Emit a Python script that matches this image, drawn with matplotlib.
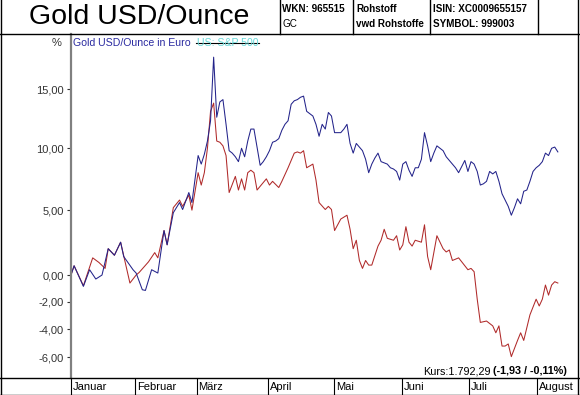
import numpy as np
import matplotlib
matplotlib.use("Agg")
import matplotlib.pyplot as plt

plt.rcParams['font.family'] = ['Liberation Sans', 'DejaVu Sans']

# trading sessions since start of January, percent change
months = ["Januar", "Februar", "März", "April", "Mai", "Juni", "Juli", "August"]
month_start = [0, 20.6, 40.5, 63.5, 84.8, 106.7, 128.4, 150.2]

eur_t = [0, 1, 4, 6, 8, 10, 12, 14, 16, 17, 20, 21, 23, 24, 26, 28, 30, 31, 33, 35,
         36, 38, 39, 40, 41, 42, 43, 44, 45, 46, 47, 48, 49, 50, 51, 52, 53, 54, 55, 56,
         57, 58, 59, 60, 61, 62, 63, 64, 65, 66, 67, 68, 69, 70, 71, 72, 73, 74, 75, 76,
         77, 78, 79, 80, 81, 82, 83, 84, 85, 86, 87, 88, 89, 90, 91, 92, 93, 94, 95, 96,
         97, 98, 99, 100, 101, 102, 103, 104, 105, 106, 107, 108, 109, 110, 111, 112, 113,
         114, 115, 116, 117, 118, 119, 120, 121, 122, 123, 124, 125, 126, 127, 128, 129,
         130, 131, 132, 133, 134, 135, 136, 137, 138, 139, 140, 141, 142, 143, 144, 145,
         146, 147, 148, 149, 150, 151, 152, 153, 154, 155, 156, 157]
eur_v = [0.0, 0.7, -0.85, 0.4, -0.3, 0.0, 2.0, 1.5, 2.5, 1.4, 0.4, 0.15, -1.1, -1.15, 0.4, 0.15, 3.4, 2.3, 4.8, 5.6,
         5.05, 6.4, 5.6, 7.5, 9.4, 8.7, 9.5, 10.6, 12.3, 17.8, 12.6, 13.9, 14.1, 12.0, 9.8, 9.6, 9.3, 8.9, 10.0, 9.3,
         10.6, 11.6, 11.6, 10.1, 8.6, 8.9, 9.3, 9.8, 10.5, 10.6, 10.8, 11.5, 12.0, 12.3, 13.7, 14.0, 14.1, 14.3, 14.4, 13.1,
         12.9, 12.7, 12.0, 11.0, 12.0, 11.6, 13.0, 12.7, 11.3, 11.3, 11.3, 11.6, 12.0, 10.4, 9.6, 10.4, 10.1, 9.8, 9.1, 8.0,
         8.7, 9.2, 9.6, 8.9, 8.8, 8.7, 8.4, 8.3, 8.1, 7.4, 8.7, 8.9, 8.2, 7.7, 8.4, 8.4, 9.1,
         11.3, 10.2, 8.9, 9.6, 10.2, 10.0, 9.8, 9.3, 9.0, 8.7, 8.4, 8.0, 8.5, 9.0, 8.1, 8.9,
         8.7, 8.1, 7.0, 7.1, 7.3, 8.1, 7.9, 8.1, 7.3, 6.3, 5.8, 5.3, 4.6, 5.2, 5.9, 5.5,
         6.5, 6.6, 7.3, 8.1, 8.4, 8.6, 8.9, 9.6, 9.4, 10.0, 10.1, 9.7]

usd_t = [0, 1, 4, 7, 9, 11, 12, 14, 16, 19, 21, 22, 25, 27, 28, 30, 31, 33, 35, 36,
         38, 39, 41, 42, 43, 44, 45, 46, 47, 48, 49, 50, 51, 53, 54, 55, 56, 57, 58, 59,
         60, 62, 63, 64, 65, 67, 68, 70, 72, 73, 74, 75, 76, 78, 79, 80, 82, 83, 84, 85,
         87, 89, 90, 91, 92, 93, 94, 95, 96, 97, 99, 100, 101, 102, 104, 105, 106, 107, 108, 109,
         110, 111, 113, 114, 115, 116, 118, 120, 121, 122, 123, 125, 126, 128, 129, 130, 131, 132, 134, 136,
         137, 138, 139, 140, 141, 142, 144, 145, 146, 148, 150, 151, 152, 153, 154, 155, 156, 157]
usd_v = [0.0, 0.7, -0.8, 1.3, 0.95, 0.5, 2.0, 1.5, 2.5, -0.6, 0.0, 0.2, 1.0, 1.7, 1.3, 3.4, 2.3, 5.2, 5.8, 5.3,
         6.2, 5.0, 8.0, 7.0, 8.0, 10.0, 13.1, 13.8, 10.6, 10.5, 10.2, 9.4, 6.4, 7.7, 6.6, 7.5, 6.6, 8.0, 8.2, 8.0,
         6.6, 7.2, 7.5, 7.0, 7.3, 6.8, 7.3, 8.4, 9.6, 9.7, 9.6, 9.8, 8.4, 8.7, 7.4, 5.6, 5.05, 5.3, 5.05, 3.4,
         4.3, 4.6, 3.5, 2.0, 2.65, 1.1, 0.5, 1.1, 0.75, 0.75, 2.2, 2.65, 3.5, 2.8, 2.65, 3.0, 1.9, 2.3, 3.7, 2.5,
         2.2, 2.65, 2.5, 3.85, 1.4, 0.4, 3.0, 2.0, 1.75, 1.9, 1.1, 1.3, 1.0, 0.4, 0.5, 0.25, -1.8, -3.5, -3.4, -3.75,
         -4.25, -3.75, -5.2, -5.2, -5.05, -5.95, -4.8, -4.25, -4.8, -2.95, -1.8, -2.3, -1.8, -0.75, -1.5, -0.75, -0.5, -0.6]

yticks = [-6, -4, -2, 0, 5, 10, 15]

W, H = 580, 395
fig = plt.figure(figsize=(W / 100, H / 100), dpi=100)
ax = fig.add_axes([71 / W, 17 / H, 507 / W, 344 / H])
ax.set_facecolor('none')

ax.set_yscale('function', functions=(lambda v: np.log1p(np.asarray(v) / 100.0),
                                     lambda u: 100.0 * np.expm1(u)))
ax.plot(usd_t, usd_v, color='#b02a2a', lw=0.75)
ax.plot(eur_t, eur_v, color='#23238a', lw=0.75)
ax.set_ylim(-7.45, 19.87)
ax.set_xlim(0, 163.5)

ax.set_yticks(yticks)
ax.set_yticklabels([f"{v:.2f}".replace('.', ',') for v in yticks])
ax.yaxis.set_minor_locator(matplotlib.ticker.NullLocator())
ax.tick_params(axis='y', length=3, width=0.8, pad=2, labelsize=8, labelcolor='#333333', color='#333333')
ax.set_xticks([])
for s in ['top', 'right', 'bottom']:
    ax.spines[s].set_visible(False)
ax.spines['left'].set_color('#808080')
ax.spines['left'].set_linewidth(1.6)

# month row
xt = ax.get_xaxis_transform()
ax.vlines(month_start, -17 / 344, 0, transform=xt, color='black', lw=0.8, clip_on=False)
for m, name in zip(month_start, months):
    ax.text(m + 0.6, -8.5 / 344, name, transform=xt, ha='left', va='center', fontsize=8, clip_on=False)

# header and frame in pixel coordinates
fr = fig.add_axes([0, 0, 1, 1], zorder=5)
fr.set_facecolor('none')
fr.set_xlim(0, W)
fr.set_ylim(H, 0)
fr.axis('off')
k = dict(color='black', lw=1)
fr.plot([0.5, 0.5], [0, H], **k)
fr.plot([578, 578], [0, H], **k)
fr.plot([0, W], [34, 34], **k)
fr.plot([0, W], [378, 378], **k)
fr.plot([0, W], [394.5, 394.5], **k)
for x in [280, 353, 430, 538]:
    fr.plot([x, x], [0, 34], **k)

fr.text(139, 17, "Gold USD/Ounce", fontsize=20.5, ha='center', va='center')
hk = dict(fontsize=7.1, fontweight='bold', va='center')
fr.text(282.5, 9, "WKN: 965515", **hk)
fr.text(282.5, 24, "GC", fontsize=7.1, va='center')
fr.text(356, 9, "Rohstoff", **hk)
fr.text(355.5, 24, "vwd Rohstoffe", **hk)
fr.text(433, 9, "ISIN: XC0009655157", **hk)
fr.text(433, 24, "SYMBOL: 999003", **hk)

fr.text(61, 43, "%", fontsize=8, ha='right', va='center', color='#333333')
fr.text(73, 43, "Gold USD/Ounce in Euro", fontsize=7.6, color='#2a2aa0', va='center')
fr.text(197, 43, "US: S&P 500", fontsize=7.6, color='#66d8d8', va='center')
fr.plot([196, 259], [42.5, 42.5], color='black', lw=0.8)

# price note, bold part right-aligned and plain part placed to its left
bold = fr.text(567, 371, "(-1,93 / -0,11%)", fontsize=7.8, va='center', ha='right', fontweight='bold')
fig.canvas.draw()
bb = bold.get_window_extent()
fr.text(bb.x0 - 3, 371, "Kurs:1.792,29", fontsize=7.8, va='center', ha='right')

fig.savefig("out.png", dpi=100)
